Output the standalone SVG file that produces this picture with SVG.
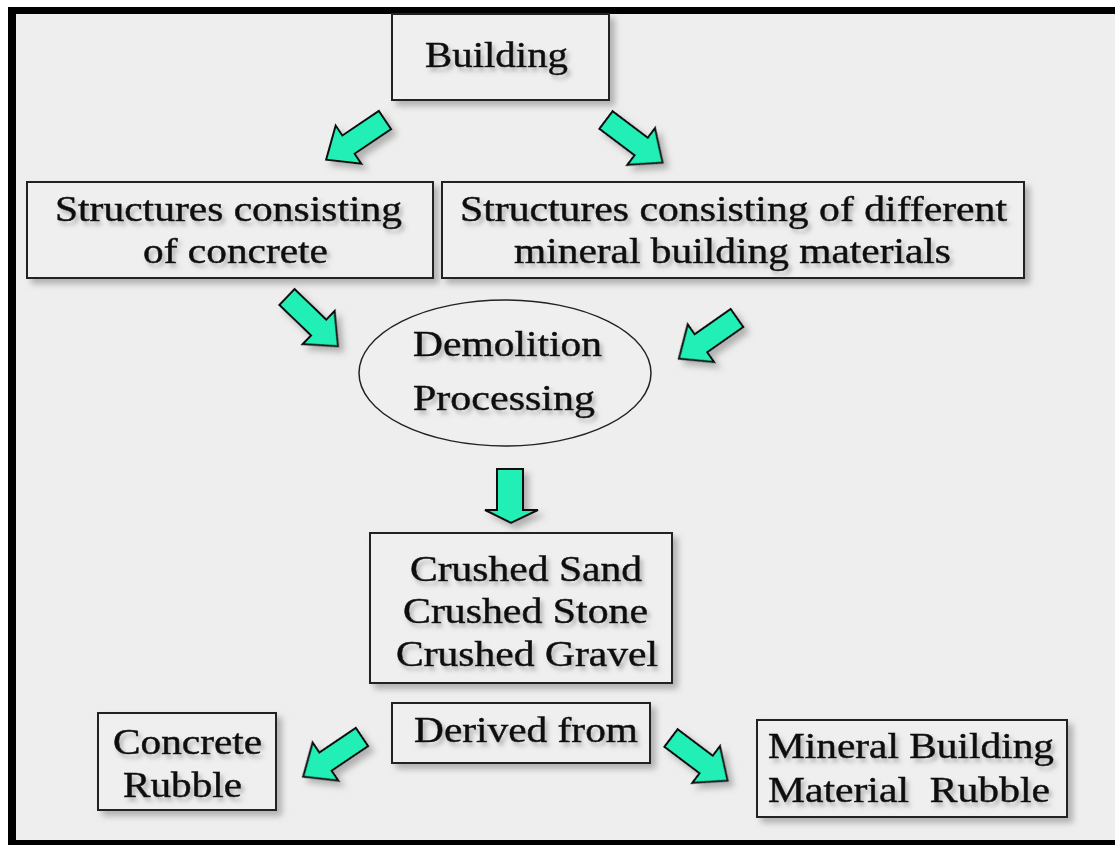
<svg xmlns="http://www.w3.org/2000/svg" width="1115" height="845" viewBox="0 0 1115 845">
<defs>
<style>
.box{fill:#efefef;stroke:#222;stroke-width:2}
.t{font-family:"Liberation Serif","Times New Roman",serif;font-size:35px;fill:#111;stroke:#111;stroke-width:0.5;text-anchor:start}
.arr{fill:#22efb6;stroke:#111;stroke-width:2;stroke-linejoin:miter}
</style>
<filter id="sh" x="-20%" y="-20%" width="150%" height="150%">
<feDropShadow dx="5" dy="5" stdDeviation="3" flood-color="#888" flood-opacity="0.6"/>
</filter>
<filter id="tsh" x="-10%" y="-20%" width="120%" height="160%">
<feDropShadow dx="3" dy="4" stdDeviation="2" flood-color="#777" flood-opacity="0.5"/>
</filter>
<path id="da" d="M0,-11 L44,-11 L44,-23 L71,0 L44,23 L44,11 L0,11 Z"/>
</defs>
<rect x="0" y="0" width="1115" height="845" fill="#ffffff"/>
<rect x="8" y="7" width="1115" height="845" fill="#000"/>
<rect x="16" y="14" width="1115" height="826" fill="#eeeeee"/>

<g id="building">
<rect class="box" x="392" y="14" width="217" height="86" filter="url(#sh)"/>
<text class="t" x="425" y="67" textLength="143" lengthAdjust="spacingAndGlyphs" filter="url(#tsh)">Building</text>
</g>
<g id="concrete-structures">
<rect class="box" x="27" y="182" width="406" height="96" filter="url(#sh)"/>
<text class="t" x="55" y="221" textLength="347" lengthAdjust="spacingAndGlyphs" filter="url(#tsh)">Structures consisting</text>
<text class="t" x="143" y="263" textLength="185" lengthAdjust="spacingAndGlyphs" filter="url(#tsh)">of concrete</text>
</g>
<g id="mineral-structures">
<rect class="box" x="442" y="182" width="582" height="96" filter="url(#sh)"/>
<text class="t" x="460" y="221" textLength="547" lengthAdjust="spacingAndGlyphs" filter="url(#tsh)">Structures consisting of different</text>
<text class="t" x="514" y="263" textLength="437" lengthAdjust="spacingAndGlyphs" filter="url(#tsh)">mineral building materials</text>
</g>
<g id="demolition">
<ellipse cx="505" cy="373" rx="146" ry="73" fill="#efefef" stroke="#222" stroke-width="1.5"/>
<text class="t" x="413" y="356" textLength="189" lengthAdjust="spacingAndGlyphs" filter="url(#tsh)">Demolition</text>
<text class="t" x="413" y="410" textLength="182" lengthAdjust="spacingAndGlyphs" filter="url(#tsh)">Processing</text>
</g>
<g id="crushed">
<rect class="box" x="370" y="533" width="302" height="150" filter="url(#sh)"/>
<text class="t" x="410" y="581" textLength="232" lengthAdjust="spacingAndGlyphs" filter="url(#tsh)">Crushed Sand</text>
<text class="t" x="403" y="623" textLength="245" lengthAdjust="spacingAndGlyphs" filter="url(#tsh)">Crushed Stone</text>
<text class="t" x="396" y="666" textLength="262" lengthAdjust="spacingAndGlyphs" filter="url(#tsh)">Crushed Gravel</text>
</g>
<g id="derived">
<rect class="box" x="392" y="703" width="258" height="60" filter="url(#sh)"/>
<text class="t" x="414" y="742" textLength="224" lengthAdjust="spacingAndGlyphs" filter="url(#tsh)">Derived from</text>
</g>
<g id="concrete-rubble">
<rect class="box" x="98" y="713" width="178" height="97" filter="url(#sh)"/>
<text class="t" x="113" y="754" textLength="149" lengthAdjust="spacingAndGlyphs" filter="url(#tsh)">Concrete</text>
<text class="t" x="123" y="797" textLength="119" lengthAdjust="spacingAndGlyphs" filter="url(#tsh)">Rubble</text>
</g>
<g id="mineral-rubble">
<rect class="box" x="757" y="720" width="310" height="97" filter="url(#sh)"/>
<text class="t" x="768" y="758" textLength="286" lengthAdjust="spacingAndGlyphs" filter="url(#tsh)">Mineral Building</text>
<text class="t" x="768" y="802" textLength="282" lengthAdjust="spacingAndGlyphs" filter="url(#tsh)" xml:space="preserve">Material  Rubble</text>
</g>

<g id="connectors" filter="url(#sh)">
<use href="#da" class="arr" transform="translate(385,120) rotate(146)"/>
<use href="#da" class="arr" transform="translate(606,120) rotate(37)"/>
<use href="#da" class="arr" transform="translate(287,297) rotate(44)"/>
<use href="#da" class="arr" transform="translate(737,318) rotate(145)"/>
<path class="arr" d="M497,469 L523,469 L523,510 L538,510 L511,523 L485,510 L497,510 Z"/>
<use href="#da" class="arr" transform="translate(362,737) rotate(146)"/>
<use href="#da" class="arr" transform="translate(671,738) rotate(37)"/>
</g>
</svg>
